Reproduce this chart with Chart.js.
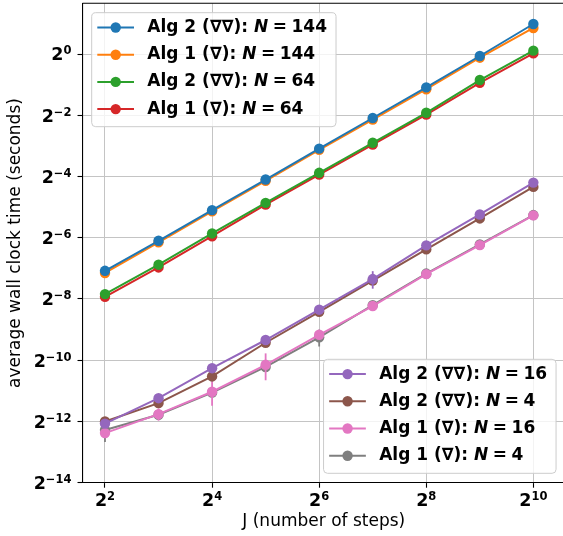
<!DOCTYPE html>
<html>
<head>
<meta charset="utf-8">
<script src="https://cdn.jsdelivr.net/npm/chart.js@4.4.1/dist/chart.umd.min.js"></script>
<style>
  html, body { margin: 0; padding: 0; background: #fff; overflow: hidden; width: 563px; height: 536px; }
</style>
</head>
<body>
<canvas id="timing" width="565" height="536"></canvas>
<script>
// J values (number of steps)
const steps = [4, 8, 16, 32, 64, 128, 256, 512, 1024];

// average wall clock time in seconds
const alg2N144 = [0.00739, 0.01458, 0.02916, 0.05832, 0.1174, 0.2349, 0.4697, 0.956, 1.972];
const alg1N144 = [0.00704, 0.01408, 0.02836, 0.05672, 0.1142, 0.2269, 0.4507, 0.920, 1.8025];
const alg2N64 = [0.004364, 0.00849, 0.01722, 0.03443, 0.06792, 0.1340, 0.2643, 0.5548, 1.0792];
const alg1N64 = [0.0041, 0.007977, 0.016176, 0.03303, 0.06516, 0.1285, 0.2535, 0.5213, 1.014];
const alg2N16 = [0.0002326, 0.0004134, 0.0008155, 0.001543, 0.003065, 0.00613, 0.01314, 0.02646, 0.05441];
const alg2N4 = [0.0002441, 0.00037, 0.0006766, 0.00145, 0.00292, 0.005921, 0.012, 0.02418, 0.04938];
const alg1N16 = [0.0001876, 0.0002883, 0.0004782, 0.0008802, 0.001736, 0.00333, 0.006849, 0.01323, 0.02592];
const alg1N4 = [0.0002011, 0.0002844, 0.0004684, 0.0008385, 0.001642, 0.003401, 0.006944, 0.01342, 0.0261];

// visible error bars (seconds), null where too small to see
const alg2N16Err = [null, null, null, null, null, 0.0012, null, null, null];
const alg1N16Err = [null, 0.00004, 0.00013, 0.00026, null, null, null, null, null];
const alg1N4Err = [0.000048, null, null, null, 0.00031, null, null, null, null];

const seriesLabels = [
  'Alg 2 (∇∇): N = 144', 'Alg 1 (∇): N = 144', 'Alg 2 (∇∇): N = 64', 'Alg 1 (∇): N = 64',
  'Alg 2 (∇∇): N = 16', 'Alg 2 (∇∇): N = 4', 'Alg 1 (∇): N = 16', 'Alg 1 (∇): N = 4'
];
const seriesColors = ['#1f77b4', '#ff7f0e', '#2ca02c', '#d62728', '#9467bd', '#8c564b', '#e377c2', '#7f7f7f'];
const seriesValues = [alg2N144, alg1N144, alg2N64, alg1N64, alg2N16, alg2N4, alg1N16, alg1N4];
const seriesErrors = [null, null, null, null, alg2N16Err, null, alg1N16Err, alg1N4Err];

// tick exponents (base 2)
const xTickExps = [2, 4, 6, 8, 10];
const yTickExps = [-14, -12, -10, -8, -6, -4, -2, 0];

const FONT = '"DejaVu Sans", sans-serif';
const GRID = '#c4c4c4';

const datasets = seriesValues.map((vals, k) => ({
  label: seriesLabels[k],
  data: steps.map((s, i) => ({ x: s, y: vals[i] })),
  errors: seriesErrors[k],
  borderColor: seriesColors[k],
  backgroundColor: seriesColors[k],
  pointBackgroundColor: seriesColors[k],
  borderWidth: 2,
  pointRadius: 5.2,
  pointBorderWidth: 0,
  pointHoverRadius: 5.2,
  tension: 0
}));

// only grid lines on the listed powers of two
function gridFor(exps) {
  return c => {
    if (!c.tick) return 'rgba(0,0,0,0)';
    const e = Math.log2(c.tick.value);
    return exps.some(t => Math.abs(t - e) < 1e-6) ? GRID : 'rgba(0,0,0,0)';
  };
}
function tickColFor(exps) {
  return c => {
    if (!c.tick) return 'rgba(0,0,0,0)';
    const e = Math.log2(c.tick.value);
    return exps.some(t => Math.abs(t - e) < 1e-6) ? '#000' : 'rgba(0,0,0,0)';
  };
}

const errorBars = {
  id: 'errorBars',
  beforeDatasetDraw(chart, args) {
    const ds = chart.data.datasets[args.index];
    if (!ds.errors) return;
    const xs = chart.scales.x, ys = chart.scales.y, ctx = chart.ctx;
    ctx.save();
    ctx.strokeStyle = ds.borderColor;
    ctx.lineWidth = 1.8;
    ds.errors.forEach((e, i) => {
      if (e == null) return;
      const v = ds.data[i].y;
      const px = xs.getPixelForValue(ds.data[i].x);
      ctx.beginPath();
      ctx.moveTo(px, ys.getPixelForValue(v - e));
      ctx.lineTo(px, ys.getPixelForValue(v + e));
      ctx.stroke();
    });
    ctx.restore();
  }
};

function supText(exp) {
  return String(exp).replace('-', '\u2212');
}

// tick labels drawn as 2 with a raised exponent
function drawPow(ctx, exp, x, baseY, align) {
  const sup = supText(exp);
  ctx.font = 'bold 17.5px ' + FONT;
  const wb = ctx.measureText('2').width;
  ctx.font = 'bold 11.5px ' + FONT;
  const ws = ctx.measureText(sup).width;
  let left = align === 'right' ? x - wb - ws : x - (wb + ws) / 2;
  ctx.textAlign = 'left';
  ctx.textBaseline = 'alphabetic';
  ctx.fillStyle = '#000';
  ctx.font = 'bold 17.5px ' + FONT;
  ctx.fillText('2', left, baseY);
  ctx.font = 'bold 11.5px ' + FONT;
  ctx.fillText(sup, left + wb, baseY - 6);
}

function roundBox(ctx, x, y, w, h, r) {
  ctx.beginPath();
  ctx.moveTo(x + r, y);
  ctx.lineTo(x + w - r, y);
  ctx.arcTo(x + w, y, x + w, y + r, r);
  ctx.lineTo(x + w, y + h - r);
  ctx.arcTo(x + w, y + h, x + w - r, y + h, r);
  ctx.lineTo(x + r, y + h);
  ctx.arcTo(x, y + h, x, y + h - r, r);
  ctx.lineTo(x, y + r);
  ctx.arcTo(x, y, x + r, y, r);
  ctx.closePath();
}

// "Alg 2 (∇∇): " + italic "N" + "=" + "144"
function labelParts(label) {
  const k = label.indexOf('N');
  const rest = label.slice(k + 1).replace('=', '').trim();
  return [label.slice(0, k), 'N', rest];
}

const EQ_GAP = 4.5;

function drawLabel(ctx, label, x, y, draw) {
  const [a, n, b] = labelParts(label);
  let tx = x;
  ctx.font = 'bold 17px ' + FONT;
  if (draw) ctx.fillText(a, tx, y);
  tx += ctx.measureText(a).width;
  ctx.font = 'italic bold 17px ' + FONT;
  if (draw) ctx.fillText(n, tx, y);
  tx += ctx.measureText(n).width + EQ_GAP;
  ctx.font = 'bold 17px ' + FONT;
  if (draw) ctx.fillText('=', tx, y);
  tx += ctx.measureText('=').width + EQ_GAP;
  if (draw) ctx.fillText(b, tx, y);
  tx += ctx.measureText(b).width;
  return tx - x;
}

function drawLegend(chart, idx, corner) {
  const ctx = chart.ctx, area = chart.chartArea;
  const ds = chart.data.datasets;
  const textW = Math.max(...idx.map(i => drawLabel(ctx, ds[i].label, 0, 0, false)));
  const w = 55.6 + textW + 9;
  const h = 114;
  const rightEdge = chart.scales.x.getPixelForValue(1024) + 22.7;
  const bx = corner === 'tl' ? area.left + 9.2 : rightEdge - w;
  const by = corner === 'tl' ? area.top + 9.4 : area.bottom - 9.4 - h;
  ctx.save();
  roundBox(ctx, bx, by, w, h, 4);
  ctx.fillStyle = 'rgba(255,255,255,0.8)';
  ctx.fill();
  ctx.strokeStyle = '#cccccc';
  ctx.lineWidth = 1;
  ctx.stroke();
  idx.forEach((i, row) => {
    const cy = by + 14.8 + row * 27.2;
    const c = ds[i].borderColor;
    ctx.strokeStyle = c;
    ctx.lineWidth = 2;
    ctx.beginPath();
    ctx.moveTo(bx + 5.6, cy);
    ctx.lineTo(bx + 42.3, cy);
    ctx.stroke();
    ctx.fillStyle = c;
    ctx.beginPath();
    ctx.arc(bx + 24, cy, 5.2, 0, Math.PI * 2);
    ctx.fill();
    ctx.fillStyle = '#000';
    ctx.textBaseline = 'middle';
    ctx.textAlign = 'left';
    drawLabel(ctx, ds[i].label, bx + 55.6, cy, true);
  });
  ctx.restore();
}

const decorations = {
  id: 'decorations',
  afterDraw(chart) {
    const ctx = chart.ctx, area = chart.chartArea;
    const xs = chart.scales.x, ys = chart.scales.y;
    ctx.save();
    // top spine
    ctx.strokeStyle = '#000';
    ctx.lineWidth = 1.1;
    ctx.beginPath();
    ctx.moveTo(area.left, area.top);
    ctx.lineTo(area.right, area.top);
    ctx.stroke();
    yTickExps.forEach(e => {
      const py = ys.getPixelForValue(Math.pow(2, e));
      drawPow(ctx, e, area.left - 11, py + 6.3, 'right');
    });
    xTickExps.forEach(e => {
      const px = xs.getPixelForValue(Math.pow(2, e));
      drawPow(ctx, e, px, area.bottom + 23, 'center');
    });
    ctx.restore();
    drawLegend(chart, [0, 1, 2, 3], 'tl');
    drawLegend(chart, [4, 5, 6, 7], 'br');
  }
};

new Chart(document.getElementById('timing'), {
  type: 'line',
  data: { datasets },
  options: {
    responsive: false,
    animation: false,
    layout: { padding: { top: 3.3, left: 0, right: 0, bottom: 0 }, autoPadding: false },
    plugins: { legend: { display: false }, tooltip: { enabled: false } },
    scales: {
      x: {
        type: 'logarithmic',
        position: 'bottom',
        min: Math.pow(2, 1.58),
        max: Math.pow(2, 10.591),
        afterBuildTicks: s => { s.ticks = xTickExps.map(e => ({ value: Math.pow(2, e) })); },
        afterFit: s => { s.height = 53.3; },
        ticks: { display: false, autoSkip: false },
        grid: { color: gridFor(xTickExps), lineWidth: 1, tickColor: tickColFor(xTickExps), tickLength: 5, tickWidth: 1.1 },
        border: { display: true, color: '#000', width: 1.1 },
        title: {
          display: true, text: 'J (number of steps)', color: '#000',
          font: { family: FONT, size: 17 }, padding: { top: 0, bottom: 3.8 }
        }
      },
      y: {
        type: 'logarithmic',
        position: 'left',
        min: Math.pow(2, -14),
        max: Math.pow(2, 1.656),
        afterBuildTicks: s => { s.ticks = yTickExps.map(e => ({ value: Math.pow(2, e) })); },
        afterFit: s => { s.width = 82.5; },
        ticks: { display: false, autoSkip: false },
        grid: { color: gridFor(yTickExps), lineWidth: 1, tickColor: tickColFor(yTickExps), tickLength: 5, tickWidth: 1.1 },
        border: { display: true, color: '#000', width: 1.1 },
        title: {
          display: true, text: 'average wall clock time (seconds)', color: '#000',
          font: { family: FONT, size: 17 }, padding: { top: 5.3, bottom: 0 }
        }
      }
    }
  },
  plugins: [errorBars, decorations]
});
</script>
</body>
</html>
